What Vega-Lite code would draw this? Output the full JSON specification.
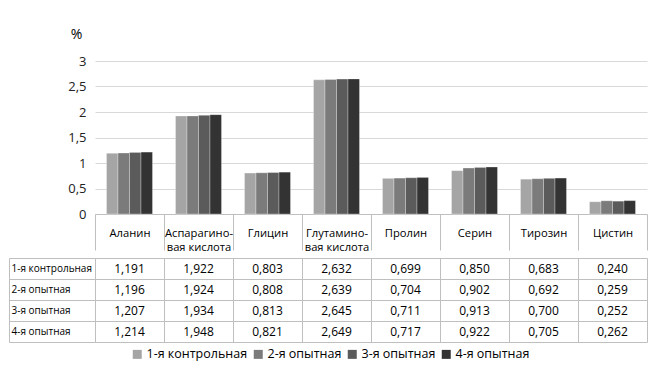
{
  "$schema": "https://vega.github.io/schema/vega-lite/v6.json",
  "padding": {"left": 8, "top": 27, "right": 11, "bottom": 5},
  "spacing": 0,
  "config": {
    "font": "Open Sans",
    "view": {"stroke": null},
    "locale": {"number": {"decimal": ",", "thousands": "\u00a0", "grouping": [3], "currency": ["", ""]}}
  },
  "datasets": {
    "d": [
      {"acid": "Аланин", "group": "1-я контрольная", "value": 1.191},
      {"acid": "Аланин", "group": "2-я опытная", "value": 1.196},
      {"acid": "Аланин", "group": "3-я опытная", "value": 1.207},
      {"acid": "Аланин", "group": "4-я опытная", "value": 1.214},
      {"acid": "Аспарагиновая кислота", "group": "1-я контрольная", "value": 1.922},
      {"acid": "Аспарагиновая кислота", "group": "2-я опытная", "value": 1.924},
      {"acid": "Аспарагиновая кислота", "group": "3-я опытная", "value": 1.934},
      {"acid": "Аспарагиновая кислота", "group": "4-я опытная", "value": 1.948},
      {"acid": "Глицин", "group": "1-я контрольная", "value": 0.803},
      {"acid": "Глицин", "group": "2-я опытная", "value": 0.808},
      {"acid": "Глицин", "group": "3-я опытная", "value": 0.813},
      {"acid": "Глицин", "group": "4-я опытная", "value": 0.821},
      {"acid": "Глутаминовая кислота", "group": "1-я контрольная", "value": 2.632},
      {"acid": "Глутаминовая кислота", "group": "2-я опытная", "value": 2.639},
      {"acid": "Глутаминовая кислота", "group": "3-я опытная", "value": 2.645},
      {"acid": "Глутаминовая кислота", "group": "4-я опытная", "value": 2.649},
      {"acid": "Пролин", "group": "1-я контрольная", "value": 0.699},
      {"acid": "Пролин", "group": "2-я опытная", "value": 0.704},
      {"acid": "Пролин", "group": "3-я опытная", "value": 0.711},
      {"acid": "Пролин", "group": "4-я опытная", "value": 0.717},
      {"acid": "Серин", "group": "1-я контрольная", "value": 0.850},
      {"acid": "Серин", "group": "2-я опытная", "value": 0.902},
      {"acid": "Серин", "group": "3-я опытная", "value": 0.913},
      {"acid": "Серин", "group": "4-я опытная", "value": 0.922},
      {"acid": "Тирозин", "group": "1-я контрольная", "value": 0.683},
      {"acid": "Тирозин", "group": "2-я опытная", "value": 0.692},
      {"acid": "Тирозин", "group": "3-я опытная", "value": 0.700},
      {"acid": "Тирозин", "group": "4-я опытная", "value": 0.705},
      {"acid": "Цистин", "group": "1-я контрольная", "value": 0.240},
      {"acid": "Цистин", "group": "2-я опытная", "value": 0.259},
      {"acid": "Цистин", "group": "3-я опытная", "value": 0.252},
      {"acid": "Цистин", "group": "4-я опытная", "value": 0.262}
    ]
  },
  "vconcat": [
    {
      "width": 552,
      "height": 153,
      "data": {"name": "d"},
      "mark": {"type": "bar", "stroke": "#ffffff", "strokeWidth": 0.5, "strokeOpacity": 0.6},
      "encoding": {
        "x": {
          "field": "acid", "type": "nominal",
          "sort": ["Аланин", "Аспарагиновая кислота", "Глицин", "Глутаминовая кислота", "Пролин", "Серин", "Тирозин", "Цистин"],
          "scale": {"paddingInner": 0, "paddingOuter": 0},
          "axis": {
            "title": null,
            "tickBand": "extent",
            "tickSize": 36,
            "tickColor": "#bfbfbf",
            "domainColor": "#bfbfbf",
            "labelAngle": 0,
            "labelBaseline": "middle",
            "labelPadding": -17,
            "labelLineHeight": 14,
            "labelFontSize": 11.2,
            "labelColor": "#000000",
            "labelOverlap": false,
            "labelExpr": "datum.value == 'Аспарагиновая кислота' ? ['Аспарагино-', 'вая кислота'] : datum.value == 'Глутаминовая кислота' ? ['Глутамино-', 'вая кислота'] : datum.label",
            "encode": {"labels": {"dy": {"condition": {"test": "indexof(datum.value, ' ') >= 0", "value": -5}, "value": 1}}}
          }
        },
        "xOffset": {
          "field": "group", "type": "nominal",
          "sort": ["1-я контрольная", "2-я опытная", "3-я опытная", "4-я опытная"],
          "scale": {"paddingInner": 0, "paddingOuter": 1.45}
        },
        "y": {
          "field": "value", "type": "quantitative",
          "scale": {"domain": [0, 3]},
          "axis": {
            "values": [0, 0.5, 1, 1.5, 2, 2.5, 3],
            "format": "~g",
            "domain": false,
            "ticks": false,
            "grid": true,
            "gridColor": "#d9d9d9",
            "gridWidth": 1,
            "labelPadding": 9,
            "labelFontSize": 13,
            "labelColor": "#222222",
            "title": "%",
            "titleAngle": 0,
            "titleAlign": "center",
            "titleBaseline": "alphabetic",
            "titleX": -19,
            "titleY": -23,
            "titleFontSize": 14,
            "titleFontWeight": "normal",
            "titleColor": "#000000"
          }
        },
        "color": {
          "field": "group", "type": "nominal",
          "scale": {
            "domain": ["1-я контрольная", "2-я опытная", "3-я опытная", "4-я опытная"],
            "range": ["#a5a5a5", "#7b7b7b", "#5b5b5b", "#333333"]
          },
          "legend": {
            "orient": "none",
            "legendX": 36,
            "legendY": 287,
            "direction": "horizontal",
            "title": null,
            "padding": 0,
            "symbolType": "square",
            "symbolSize": 81,
            "symbolStrokeWidth": 0,
            "labelFontSize": 12.5,
            "labelColor": "#000000",
            "columnPadding": 4,
            "labelOffset": 3
          }
        }
      }
    },
    {
      "width": 552,
      "height": 84,
      "data": {"name": "d"},
      "layer": [
        {
          "mark": {"type": "text", "fontSize": 12, "color": "#000000"},
          "encoding": {
            "x": {
              "field": "acid", "type": "nominal",
              "sort": ["Аланин", "Аспарагиновая кислота", "Глицин", "Глутаминовая кислота", "Пролин", "Серин", "Тирозин", "Цистин"],
              "scale": {"type": "band", "paddingInner": 0, "paddingOuter": 0},
              "axis": {"title": null, "labels": false, "ticks": false, "domain": false, "grid": true, "tickBand": "extent", "gridColor": "#bfbfbf"}
            },
            "y": {
              "field": "group", "type": "nominal",
              "sort": ["1-я контрольная", "2-я опытная", "3-я опытная", "4-я опытная"],
              "scale": {"type": "band", "paddingInner": 0, "paddingOuter": 0},
              "axis": {
                "title": null,
                "tickBand": "extent",
                "grid": true,
                "gridColor": "#bfbfbf",
                "tickSize": 86,
                "tickColor": "#bfbfbf",
                "domainColor": "#bfbfbf",
                "labelAlign": "left",
                "labelPadding": -2,
                "labelFontSize": 10,
                "labelColor": "#000000"
              }
            },
            "text": {"field": "value", "type": "quantitative", "format": ".3f"}
          }
        },
        {
          "mark": {"type": "text", "opacity": 0},
          "encoding": {
            "x": {
              "field": "acid", "type": "nominal",
              "sort": ["Аланин", "Аспарагиновая кислота", "Глицин", "Глутаминовая кислота", "Пролин", "Серин", "Тирозин", "Цистин"],
              "scale": {"type": "band", "paddingInner": 0, "paddingOuter": 0},
              "axis": {"title": null, "labels": false, "ticks": false, "domain": false, "grid": true, "tickBand": "extent", "gridColor": "#bfbfbf"}
            },
            "y": {
              "field": "group", "type": "nominal",
              "sort": ["1-я контрольная", "2-я опытная", "3-я опытная", "4-я опытная"],
              "axis": {"orient": "left", "offset": 86, "title": null, "labels": false, "ticks": false, "grid": false, "domain": true, "domainColor": "#bfbfbf"}
            },
            "text": {"field": "value", "type": "quantitative", "format": ".3f"}
          }
        }
      ],
      "resolve": {"axis": {"y": "independent"}}
    }
  ]
}
